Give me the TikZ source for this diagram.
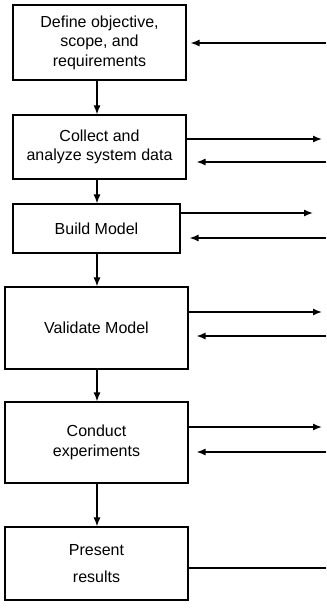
\documentclass[tikz,border=0pt]{standalone}
\usepackage{fontspec}
\setmainfont{Liberation Sans}
\usetikzlibrary{positioning}
\usetikzlibrary{arrows.meta}

\tikzset{
	stage/.style={draw, line width=1.1pt, align=center, inner sep=0pt,
		font=\fontsize{16}{19.5}\selectfont},
	flow/.style={line width=1.4pt, -{Latex[length=9pt,width=7pt]}},
	feed/.style={line width=1.4pt},
}

\begin{document}
\begin{tikzpicture}[x=1pt, y=-1pt]
	
	% ------------------------------------------------
	% Ensure the dimensions of graphic are appropriate
	\useasboundingbox (0,0) rectangle (326,609);
	
	% ------------------------------------------------
	% Stages of the study
	\node[stage, minimum width=173pt, minimum height=75pt] (Define)   at (99.5,42.5) {Define objective,\\scope, and\\requirements};
	\node[stage, minimum width=173pt, minimum height=64pt] (Collect)  at (99.5,147)  {Collect and\\analyze system data};
	\node[stage, minimum width=167pt, minimum height=49pt] (Build)    at (96.5,228.5) {Build Model};
	\node[stage, minimum width=183pt, minimum height=82pt] (Validate) at (96.5,328)  {Validate Model};
	\node[stage, minimum width=183pt, minimum height=81pt] (Conduct)  at (96.5,442.5) {Conduct\\experiments};
	\node[stage, minimum width=183pt, minimum height=73pt] (Present)  at (96.5,563.5) {Present\\[8pt]results};
	
	% ------------------------------------------------
	% Relevant coordinates
	\coordinate (Spine) at (97,0);
	
	\coordinate (DefineIn)    at (326,43);
	\coordinate (CollectOut)  at (322,139);
	\coordinate (CollectIn)   at (326,162);
	\coordinate (BuildOut)    at (313,213);
	\coordinate (BuildIn)     at (326,238);
	\coordinate (ValidateOut) at (322,312);
	\coordinate (ValidateIn)  at (326,336);
	\coordinate (ConductOut)  at (322,427);
	\coordinate (ConductIn)   at (326,452);
	\coordinate (PresentOut)  at (326,568);
	
	% ----------------
	% Main sequence
	\draw[flow] (Define.south -| Spine)   -- (Collect.north -| Spine);
	\draw[flow] (Collect.south -| Spine)  -- (Build.north -| Spine);
	\draw[flow] (Build.south -| Spine)    -- (Validate.north -| Spine);
	\draw[flow] (Validate.south -| Spine) -- (Conduct.north -| Spine);
	\draw[flow] (Conduct.south -| Spine)  -- (Present.north -| Spine);
	
	% ----------------
	% Links to the right
	\draw[flow] (DefineIn) -- ([xshift=4pt]Define.east |- DefineIn);
	
	\draw[flow] (Collect.east |- CollectOut) -- (CollectOut);
	\draw[flow] (CollectIn) -- ([xshift=10pt]Collect.east |- CollectIn);
	
	\draw[flow] (Build.east |- BuildOut) -- (BuildOut);
	\draw[flow] (BuildIn) -- ([xshift=9pt]Build.east |- BuildIn);
	
	\draw[flow] (Validate.east |- ValidateOut) -- (ValidateOut);
	\draw[flow] (ValidateIn) -- ([xshift=8pt]Validate.east |- ValidateIn);
	
	\draw[flow] (Conduct.east |- ConductOut) -- (ConductOut);
	\draw[flow] (ConductIn) -- ([xshift=8pt]Conduct.east |- ConductIn);
	
	\draw[feed] (Present.east |- PresentOut) -- (PresentOut);
	
\end{tikzpicture}
\end{document}
